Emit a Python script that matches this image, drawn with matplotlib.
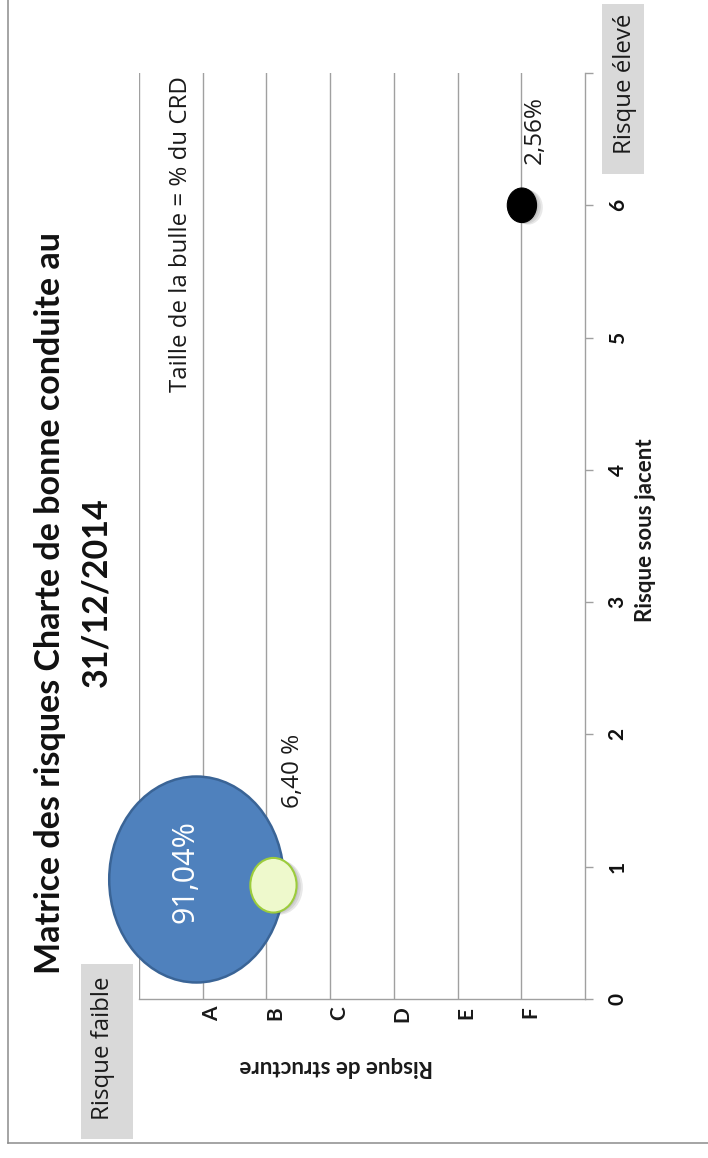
import matplotlib
matplotlib.use("Agg")
import matplotlib.pyplot as plt
import matplotlib.patheffects as pe
from matplotlib.path import Path
from matplotlib.markers import MarkerStyle
from matplotlib.transforms import Affine2D, ScaledTranslation
from matplotlib.patches import Rectangle
from matplotlib.lines import Line2D

# ---- data -------------------------------------------------------------
structure_positions = [1, 2, 3, 4, 5, 6, 7]
structure_labels = ["F", "E", "D", "C", "B", "A", ""]
underlying_positions = [0, 1, 2, 3, 4, 5, 6, 7]
underlying_labels = ["0", "1", "2", "3", "4", "5", "6", ""]

bubble_structure = [6.10, 4.89, 0.99]     # Risque de structure (A=6 ... F=1)
bubble_underlying = [0.91, 0.86, 6.00]    # Risque sous jacent
bubble_share = [91.04, 6.40, 2.56]        # % du CRD
bubble_text = ["91,04%", "6,40 %", "2,56%"]

title_line1 = "Matrice des risques Charte de bonne conduite au"
title_line2 = "31/12/2014"

# ---- styling ----------------------------------------------------------
W, H, DPI = 708, 1158, 100
CAL = ["Lato", "DejaVu Sans"]
SEG = ["Open Sans", "DejaVu Sans"]

face_colors = ["#4f81bd", "#eef9cc", "#000000"]
edge_colors = ["#3a6496", "#9ccc3c", "#000000"]
edge_widths = [1.8, 1.5, 0.8]
with_shadow = [False, True, True]
text_colors = ["white", "#1a1a1a", "#1a1a1a"]
text_sizes = [22, 17.5, 17.5]
text_offsets = [(-11, 7), (20, 114), (13, 75)]   # pixels from bubble centre

GRID = "#a0a0a0"

fig = plt.figure(figsize=(W / DPI, H / DPI), dpi=DPI)
fig.patch.set_facecolor("white")


def fx(px):
    return px / W


def fy(py):
    return 1 - py / H


ax = fig.add_axes([fx(139), 159 / H, 446 / W, 926 / H])
ax.set_xlim(7, 0)
ax.set_ylim(0, 7)

# category axis (horizontal on the page)
ax.set_xticks(structure_positions)
ax.set_xticklabels(structure_labels, rotation=90, fontfamily=CAL,
                   fontweight="bold", fontsize=15, color="#1a1a1a")
ax.tick_params(axis="x", length=0, pad=5.5)
ax.xaxis.grid(True, color=GRID, linewidth=1.0)
ax.set_axisbelow(True)
shift = ScaledTranslation(9 / DPI, 0, fig.dpi_scale_trans)
for lab in ax.get_xticklabels():
    lab.set_transform(lab.get_transform() + shift)

# value axis (vertical on the page, drawn on the right)
ax.yaxis.tick_right()
ax.set_yticks(underlying_positions)
ax.set_yticklabels(underlying_labels, rotation=90, fontfamily=CAL,
                   fontweight="bold", fontsize=15, color="#111111", va="center")
ax.tick_params(axis="y", direction="out", length=5.8, width=1.0,
               color=GRID, pad=10.5)

for side in ("top", "left"):
    ax.spines[side].set_visible(False)
for side in ("right", "bottom"):
    ax.spines[side].set_color(GRID)
    ax.spines[side].set_linewidth(1.0)

# bubbles: area proportional to the share, slightly stretched ellipse
ellipse = Path.unit_circle().transformed(Affine2D().scale(1 / 1.18, 1))
marker = MarkerStyle(ellipse)
size_per_pct = 241.6

soft_shadow = [pe.SimplePatchShadow(offset=(k, -k / 3), shadow_rgbFace="#444444",
                                    alpha=0.12) for k in (1.5, 3.0, 4.5)]

for i in range(len(bubble_share)):
    sc = ax.scatter([bubble_structure[i]], [bubble_underlying[i]],
                    s=[bubble_share[i] * size_per_pct], marker=marker,
                    facecolor=face_colors[i], edgecolor=edge_colors[i],
                    linewidth=edge_widths[i], zorder=3 + i, clip_on=False)
    if with_shadow[i]:
        sc.set_path_effects(soft_shadow + [pe.Normal()])
    ax.annotate(bubble_text[i], xy=(bubble_structure[i], bubble_underlying[i]),
                xytext=text_offsets[i], textcoords="offset pixels",
                rotation=90, ha="center", va="center",
                fontfamily=SEG, fontsize=text_sizes[i], color=text_colors[i],
                zorder=10)

# axis titles
ax.set_xlabel("Risque de structure", fontfamily=CAL, fontweight="bold",
              fontsize=16, rotation=180, va="center", ha="center",
              color="#1a1a1a")
ax.xaxis.set_label_coords((336 - 139) / 446, (999 - 1067) / 926)
ax.yaxis.set_label_position("right")
ax.set_ylabel("Risque sous jacent", fontfamily=CAL, fontweight="bold",
              fontsize=16, rotation=90, va="center", ha="center",
              color="#1a1a1a")
ax.yaxis.set_label_coords((645 - 139) / 446, (999 - 530) / 926)

# title
fig.text(fx(50), fy(603), title_line1, rotation=90, ha="center", va="center",
         fontfamily=CAL, fontweight="bold", fontsize=24.5, color="#111111")
fig.text(fx(96), fy(592), title_line2, rotation=90, ha="center", va="center",
         fontfamily=CAL, fontweight="bold", fontsize=24.5, color="#111111")

# bubble size note
fig.text(fx(181), fy(234), "Taille de la bulle = % du CRD", rotation=90,
         ha="center", va="center", fontfamily=SEG, fontsize=17.3,
         color="#1a1a1a")

# grey risk boxes
fig.add_artist(Rectangle((fx(602), fy(174)), 42 / W, 170 / H,
                         transform=fig.transFigure, facecolor="#d9d9d9",
                         edgecolor="none"))
fig.text(fx(625), fy(84), "Risque élevé", rotation=90, ha="center",
         va="center", fontfamily=SEG, fontsize=17.3, color="#1a1a1a")
fig.add_artist(Rectangle((fx(81), fy(1139)), 52 / W, 175 / H,
                         transform=fig.transFigure, facecolor="#d9d9d9",
                         edgecolor="none"))
fig.text(fx(103), fy(1048), "Risque faible", rotation=90, ha="center",
         va="center", fontfamily=SEG, fontsize=17.3, color="#1a1a1a")

# chart frame (left and bottom edges)
fig.add_artist(Line2D([fx(8), fx(8)], [fy(0), fy(1143)], transform=fig.transFigure,
                      color="#8c8c8c", linewidth=1.1))
fig.add_artist(Line2D([fx(8), fx(708)], [fy(1143), fy(1143)],
                      transform=fig.transFigure, color="#8c8c8c", linewidth=1.1))

fig.savefig("out.png", dpi=DPI, facecolor="white")
